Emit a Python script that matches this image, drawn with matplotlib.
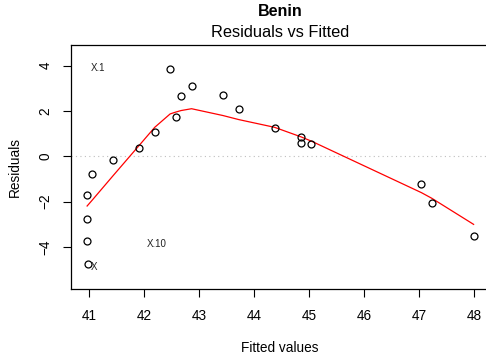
import matplotlib.pyplot as plt
import numpy as np

# Residuals vs fitted diagnostic for the Benin model
fitted = np.array([40.97, 40.96, 40.96, 40.96, 41.05, 41.43, 41.91, 42.19, 42.47, 42.57,
                   42.67, 42.86, 43.43, 43.72, 44.37, 44.85, 44.85, 45.04, 47.04, 47.23, 47.99])
residuals = np.array([-4.76, -3.75, -2.75, -1.72, -0.79, -0.18, 0.37, 1.09, 3.85, 1.72,
                      2.65, 3.11, 2.72, 2.09, 1.23, 0.85, 0.59, 0.53, -1.21, -2.07, -3.52])

# smoothed trend through the residuals
smooth_x = [40.96, 41.05, 41.43, 41.91, 42.19, 42.47, 42.57, 42.67, 42.86, 43.43,
            43.72, 44.37, 44.85, 45.04, 47.04, 47.23, 47.99]
smooth_y = [-2.19, -1.94, -0.86, 0.49, 1.28, 1.87, 1.95, 2.02, 2.10, 1.80,
            1.62, 1.28, 0.86, 0.67, -1.60, -1.85, -3.00]

# labels of the largest residuals
obs_labels = ['X.1', 'X.10', 'X']
obs_label_x = [41.158, 42.227, 41.085]
obs_label_y = [3.88, -3.855, -4.90]

xticks = [41, 42, 43, 44, 45, 46, 47, 48]
yticks = [-4, -2, 0, 2, 4]

plt.rcParams['font.family'] = ['Liberation Sans', 'DejaVu Sans']

fig = plt.figure(figsize=(4.86, 3.62), dpi=100)
ax = fig.add_axes([71 / 486, 1 - 289 / 362, 418 / 486, 244 / 362])

ax.axhline(0, color='#bebebe', linestyle=(0, (1, 3)), linewidth=0.8, zorder=1)
ax.plot(fitted, residuals, linestyle='none', marker='o', markersize=5,
        markerfacecolor='none', markeredgecolor='black', markeredgewidth=0.9, zorder=3)
ax.plot(smooth_x, smooth_y, color='red', linewidth=0.9, zorder=2)

for lab, lx, ly in zip(obs_labels, obs_label_x, obs_label_y):
    ax.text(lx, ly, lab, fontsize=7, ha='center', va='center', color='#222222')

ax.set_xlim(40.667, 48.27)
ax.set_ylim(-5.85, 4.91)
ax.set_xticks(xticks)
ax.set_yticks(yticks)
ax.set_yticklabels([str(v).replace('-', '\u2212') for v in yticks], rotation=90, va='center')
ax.tick_params(direction='out', length=5.5, width=0.8, labelsize=9.8, pad=9)
ax.tick_params(axis='y', pad=8)
for sp in ax.spines.values():
    sp.set_linewidth(0.9)

ax.set_xlabel('Fitted values', fontsize=9.8, labelpad=13)
ax.set_ylabel('Residuals', fontsize=9.8, labelpad=12)

fig.text(280 / 486, 1 - 12 / 362, 'Benin', fontsize=11.5, fontweight='bold', ha='center', va='center')
fig.text(280 / 486, 1 - 32.5 / 362, 'Residuals vs Fitted', fontsize=11.8, ha='center', va='center')

fig.savefig('out.png', dpi=100)
